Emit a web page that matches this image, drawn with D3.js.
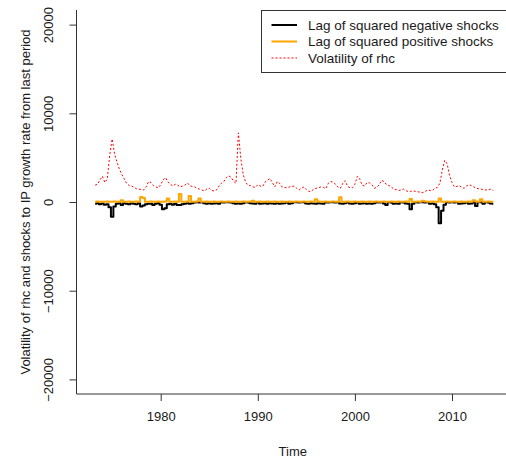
<!DOCTYPE html>
<html>
<head>
<meta charset="utf-8">
<script src="https://cdn.jsdelivr.net/npm/d3@7"></script>
<style>
  body { margin: 0; background: #fff; }
  text { font-family: "Liberation Sans", Arial, sans-serif; fill: #1a1a1a; }
</style>
</head>
<body>
<svg id="chart" width="506" height="466"></svg>
<script>
// Quarterly series, first observation at 1973 Q2
const startYear = 1973.25;
const step = 0.25;

// Volatility of rhc
const volatility = [
  1900, 2000, 2500,               // 1973
  2900, 2200, 2600, 5300,         // 1974
  7100, 5400, 4500, 3700,         // 1975
  3100, 2600, 2100, 1850,         // 1976
  1800, 1650, 1500, 1450,         // 1977
  1400, 1350, 1700, 2300,         // 1978
  2200, 1850, 1700, 1600,         // 1979
  1950, 2500, 2750, 2250,         // 1980
  2000, 1800, 2000, 1900,         // 1981
  1700, 1800, 1900, 2150,         // 1982
  1850, 1750, 1700, 1550,         // 1983
  1450, 1350, 1250, 1450,         // 1984
  1550, 1300, 1250, 1350,         // 1985
  1800, 2100, 2300, 2750,         // 1986
  2950, 2800, 2350, 2100,         // 1987
  7800, 4900, 3100, 2200,         // 1988
  1900, 1850, 1700, 1650,         // 1989
  1950, 1800, 1750, 2250,         // 1990
  2450, 2650, 2200, 1700,         // 1991
  2300, 2100, 1700, 1650,         // 1992
  1600, 1700, 1750, 1800,         // 1993
  1550, 1350, 1550, 1700,         // 1994
  1400, 1200, 1200, 1450,         // 1995
  1550, 1600, 1700, 1650,         // 1996
  1500, 2100, 2300, 2250,         // 1997
  2000, 1700, 1550, 2100,         // 1998
  2400, 1750, 1600, 1600,         // 1999
  2000, 2900, 2600, 1900,         // 2000
  1800, 2200, 2150, 1950,         // 2001
  1550, 1650, 1950, 2450,         // 2002
  2300, 1950, 1850, 1700,         // 2003
  1450, 1400, 1300, 1350,         // 2004
  1450, 1300, 1150, 1200,         // 2005
  1250, 1200, 1150, 1100,         // 2006
  1050, 1200, 1350, 1300,         // 2007
  1300, 1550, 1650, 2100,         // 2008
  3600, 4700, 4300, 3000,         // 2009
  2200, 1700, 1750, 1850,         // 2010
  1650, 1550, 1800, 1950,         // 2011
  1850, 1700, 1550, 1500,         // 2012
  1450, 1400, 1350, 1400,         // 2013
  1450, 1300                      // 2014
];

// Lag of squared negative shocks (drawn below zero)
const negShocks = [
  -200, -150, -250,               // 1973
  -180, -300, -250, -600,         // 1974
  -1650, -500, -200, -150,        // 1975
  -340, -150, -200, -250,         // 1976
  -150, -200, -250, -150,         // 1977
  -500, -400, -250, -200,         // 1978
  -200, -340, -200, -150,         // 1979
  -300, -830, -700, -250,         // 1980
  -200, -300, -200, -340,         // 1981
  -340, -250, -200, -150,         // 1982
  -200, -150, -60, -40,           // 1983
  -50, -40, -150, -200,           // 1984
  -150, -200, -180, -150,         // 1985
  -200, -40, -50, -40,            // 1986
  -40, -50, -150, -200,           // 1987
  -180, -200, -150, -40,          // 1988
  -50, -150, -180, -200,          // 1989
  -40, -200, -180, -150,          // 1990
  -200, -150, -180, -200,         // 1991
  -150, -200, -180, -150,         // 1992
  -40, -200, -150, -40,           // 1993
  -40, -50, -40, -40,             // 1994
  -180, -200, -150, -180,         // 1995
  -200, -150, -180, -200,         // 1996
  -40, -50, -40, -40,             // 1997
  -50, -40, -180, -200,           // 1998
  -150, -40, -180, -200,          // 1999
  -150, -40, -200, -180,          // 2000
  -150, -200, -180, -200,         // 2001
  -150, -40, -50, -40,            // 2002
  -180, -340, -40, -50,           // 2003
  -200, -180, -200, -40,          // 2004
  -50, -180, -200, -830,          // 2005
  -200, -40, -50, -40,            // 2006
  -40, -50, -40, -200,            // 2007
  -180, -250, -600, -2400,        // 2008
  -1000, -300, -40, -50,          // 2009
  -40, -50, -40, -200,            // 2010
  -180, -150, -40, -200,          // 2011
  -180, -40, -450, -40,           // 2012
  -40, -200, -40, -50,            // 2013
  -180, -200                      // 2014
];

// Lag of squared positive shocks
const posShocks = [
  40, 50, 30,                     // 1973
  40, 30, 50, 40,                 // 1974
  30, 50, 40, 30,                 // 1975
  200, 40, 30, 50,                // 1976
  40, 30, 50, 40,                 // 1977
  550, 450, 40, 30,               // 1978
  50, 40, 30, 50,                 // 1979
  40, 30, 50, 400,                // 1980
  40, 30, 50, 40,                 // 1981
  900, 40, 30, 50,                // 1982
  680, 40, 30, 50,                // 1983
  400, 40, 30, 50,                // 1984
  40, 30, 50, 40,                 // 1985
  30, 50, 40, 30,                 // 1986
  50, 40, 30, 50,                 // 1987
  40, 30, 50, 40,                 // 1988
  30, 50, 150, 40,                // 1989
  30, 50, 40, 30,                 // 1990
  50, 40, 30, 50,                 // 1991
  40, 30, 50, 40,                 // 1992
  30, 50, 40, 30,                 // 1993
  50, 40, 30, 50,                 // 1994
  40, 30, 50, 40,                 // 1995
  300, 50, 40, 30,                // 1996
  50, 40, 30, 50,                 // 1997
  40, 30, 530, 40,                // 1998
  30, 50, 40, 30,                 // 1999
  50, 40, 30, 50,                 // 2000
  40, 30, 50, 40,                 // 2001
  30, 50, 40, 30,                 // 2002
  50, 40, 30, 50,                 // 2003
  40, 30, 50, 40,                 // 2004
  30, 50, 40, 340,                // 2005
  40, 30, 50, 40,                 // 2006
  150, 50, 40, 30,                // 2007
  50, 40, 30, 400,                // 2008
  40, 30, 50, 40,                 // 2009
  30, 50, 40, 30,                 // 2010
  50, 40, 30, 50,                 // 2011
  40, 200, 50, 40,                // 2012
  300, 40, 30, 50,                // 2013
  40, 30                          // 2014
];

const xTicks = [1980, 1990, 2000, 2010];
const yTicks = [-20000, -10000, 0, 10000, 20000];
const legendLabels = ["Lag of squared negative shocks", "Lag of squared positive shocks", "Volatility of rhc"];

const svg = d3.select("#chart");

// Plot region
const plotLeft = 76.5, plotRight = 509, plotTop = 10, plotBottom = 394;

const x = d3.scaleLinear().domain([1980, 2010]).range([160.7, 452]);
const y = d3.scaleLinear().domain([-10000, 10000]).range([290.7, 113.3]);

const timeOf = i => startYear + i * step;

// Series: shocks as stepped spikes, volatility as a dotted line
const shockLine = d3.line().curve(d3.curveStep).x((d, i) => x(timeOf(i))).y(d => y(d));
const line = d3.line().x((d, i) => x(timeOf(i))).y(d => y(d));

const plot = svg.append("g");
plot.append("path").datum(negShocks)
  .attr("d", shockLine).attr("fill", "none").attr("stroke", "#000")
  .attr("stroke-width", 2).attr("stroke-linejoin", "round");
plot.append("path").datum(posShocks)
  .attr("d", shockLine).attr("fill", "none").attr("stroke", "#FFA500")
  .attr("stroke-width", 2).attr("stroke-linejoin", "round");
plot.append("path").datum(volatility)
  .attr("d", line).attr("fill", "none").attr("stroke", "#FF0000")
  .attr("stroke-width", 1).attr("stroke-dasharray", "2,2");

// L-shaped frame
svg.append("path")
  .attr("d", `M${plotLeft},${plotTop}V${plotBottom}H506`)
  .attr("fill", "none").attr("stroke", "#333").attr("stroke-width", 1);

// x axis
const xAxis = svg.append("g")
  .attr("transform", `translate(0,${plotBottom})`)
  .call(d3.axisBottom(x).tickValues(xTicks).tickSize(7).tickPadding(11).tickFormat(d3.format("d")));
xAxis.select(".domain").remove();
xAxis.selectAll("line").attr("stroke", "#333");
xAxis.selectAll("text").style("font-size", "13px").attr("fill", "#1a1a1a")
  .style("font-family", "'Liberation Sans', Arial, sans-serif");

// y axis with rotated labels
const yAxis = svg.append("g")
  .attr("transform", `translate(${plotLeft},0)`)
  .call(d3.axisLeft(y).tickValues(yTicks).tickSize(7).tickFormat(d3.format("d")));
yAxis.select(".domain").attr("stroke", "#333")
  .attr("d", `M0,${y(20000)}V${y(-20000)}`);
yAxis.selectAll("line").attr("stroke", "#333");
yAxis.selectAll("text")
  .attr("x", 0).attr("y", 0).attr("dy", "0.35em")
  .attr("text-anchor", "middle")
  .attr("transform", `translate(${48 - plotLeft},0) rotate(-90)`)
  .style("font-size", "13px").attr("fill", "#1a1a1a")
  .style("font-family", "'Liberation Sans', Arial, sans-serif");

// Axis titles
svg.append("text")
  .attr("x", (plotLeft + plotRight) / 2).attr("y", 451).attr("dy", "0.35em")
  .attr("text-anchor", "middle").style("font-size", "13px")
  .text("Time");
svg.append("text")
  .attr("transform", `translate(25,${(plotTop + plotBottom) / 2}) rotate(-90)`)
  .attr("dy", "0.35em")
  .attr("text-anchor", "middle").style("font-size", "13px")
  .text("Volatility of rhc and shocks to IP growth rate from last period");

// Legend
const legend = svg.append("g");
legend.append("rect")
  .attr("x", 261.5).attr("y", 10.5).attr("width", 250).attr("height", 62)
  .attr("fill", "#fff").attr("stroke", "#333").attr("stroke-width", 1);
const legendStyles = [
  { color: "#000", width: 2, dash: null },
  { color: "#FFA500", width: 2, dash: null },
  { color: "#FF0000", width: 1, dash: "2,2" }
];
const rowY = [25, 41.5, 58];
legendLabels.forEach((label, i) => {
  legend.append("line")
    .attr("x1", 271.5).attr("x2", 297).attr("y1", rowY[i]).attr("y2", rowY[i])
    .attr("stroke", legendStyles[i].color).attr("stroke-width", legendStyles[i].width)
    .attr("stroke-dasharray", legendStyles[i].dash);
  legend.append("text")
    .attr("x", 308).attr("y", rowY[i]).attr("dy", "0.36em")
    .style("font-size", "13.5px").text(label);
});
</script>
</body>
</html>
